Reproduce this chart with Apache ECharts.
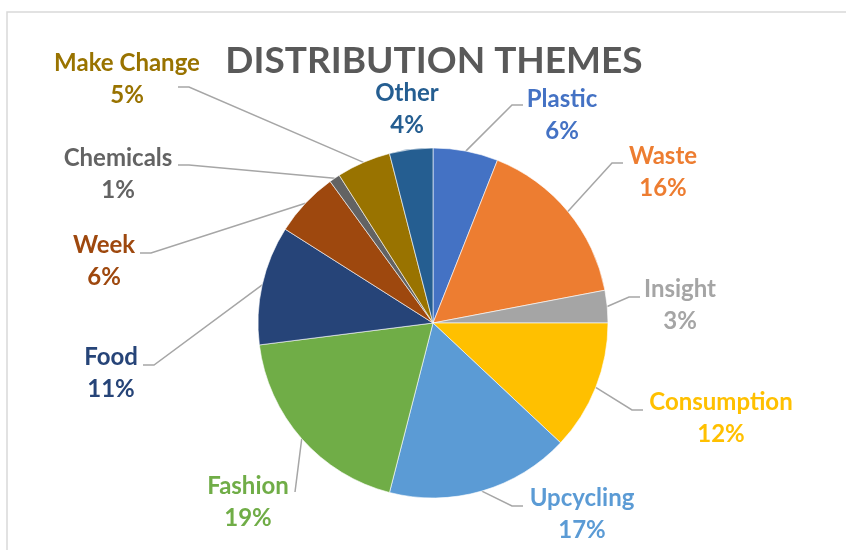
<!DOCTYPE html>
<html>
<head>
<meta charset="utf-8">
<script src="https://cdn.jsdelivr.net/npm/echarts@6/dist/echarts.min.js"></script>
<style>
  html, body { margin: 0; padding: 0; background: #ffffff; }
  #chart { width: 846px; height: 550px; }
</style>
</head>
<body>
<div id="chart"></div>
<script>
// Theme categories and their share of the distribution (percent)
const themes = ['Plastic', 'Waste', 'Insight', 'Consumption', 'Upcycling', 'Fashion',
                'Food', 'Week', 'Chemicals', 'Make Change', 'Other'];
const shares = [6, 16, 3, 12, 17, 19, 11, 6, 1, 5, 4];

// Slice colours, one per theme
const palette = ['#4472C4', '#ED7D31', '#A5A5A5', '#FFC000', '#5B9BD5', '#70AD47',
                 '#264478', '#9E480E', '#636363', '#997300', '#255E91'];

// Where each label block sits (centre, px) and where its leader line meets it
const labelSpots = [[562, 115], [663, 172], [680, 305], [721, 418], [582, 514], [248, 502],
                    [111, 373], [104, 261], [118, 174], [127, 79], [407, 109]];
const leaderTips = [[523, 105], [623, 163], [640, 297], [643, 410], [523, 506], [295, 492],
                    [143, 365], [140, 253], [178, 165], [178, 87], null];

const pieCenter = [433, 323];
const pieRadius = 175;
const labelFont = 'Lato, "Noto Sans", sans-serif';

const chart = echarts.init(document.getElementById('chart'), null, { renderer: 'canvas' });

const data = themes.map((name, i) => ({
  name: name,
  value: shares[i],
  itemStyle: { color: palette[i] },
  label: { color: palette[i] },
  labelLine: { show: leaderTips[i] !== null }
}));

chart.setOption({
  animation: false,
  backgroundColor: '#ffffff',
  graphic: [
    {
      type: 'rect',
      silent: true,
      shape: { x: 7, y: 12, width: 900, height: 600 },
      style: { fill: 'none', stroke: '#d9d9d9', lineWidth: 1.5 }
    },
    {
      type: 'text',
      silent: true,
      x: 434, y: 61,
      style: {
        text: 'DISTRIBUTION THEMES',
        fill: '#595959',
        font: 'bold 37px ' + labelFont,
        textAlign: 'center',
        textVerticalAlign: 'middle'
      }
    }
  ],
  series: [{
    type: 'pie',
    center: pieCenter,
    radius: pieRadius,
    startAngle: 90,
    clockwise: true,
    avoidLabelOverlap: false,
    itemStyle: { borderColor: '#ffffff', borderWidth: 0.6 },
    label: {
      show: true,
      position: 'outside',
      formatter: p => '{n|' + p.name + '}\n{v|' + p.value + '%}',
      rich: {
        n: { fontFamily: labelFont, fontWeight: 'bold', fontSize: 24, lineHeight: 32, align: 'center' },
        v: { fontFamily: labelFont, fontWeight: 'bold', fontSize: 24, lineHeight: 32, align: 'center' }
      }
    },
    labelLine: {
      show: true,
      length: 20,
      length2: 10,
      lineStyle: { color: '#a6a6a6', width: 1.5 }
    },
    labelLayout: function (p) {
      const i = p.dataIndex;
      const spot = labelSpots[i];
      const out = {
        x: spot[0], y: spot[1],
        align: 'center', verticalAlign: 'middle',
        hideOverlap: false
      };
      const tip = leaderTips[i];
      if (tip && p.labelLinePoints && p.labelLinePoints.length) {
        const s = p.labelLinePoints[0];
        let mid;
        if (Math.abs(s[0] - tip[0]) >= 0.5 * Math.abs(s[1] - tip[1])) {
          mid = [tip[0] + (tip[0] < pieCenter[0] ? 11 : -11), tip[1]];
        } else {
          mid = [(s[0] + tip[0]) / 2, (s[1] + tip[1]) / 2];
        }
        out.labelLinePoints = [s, mid, tip];
      }
      return out;
    },
    data: data
  }]
});
</script>
</body>
</html>
